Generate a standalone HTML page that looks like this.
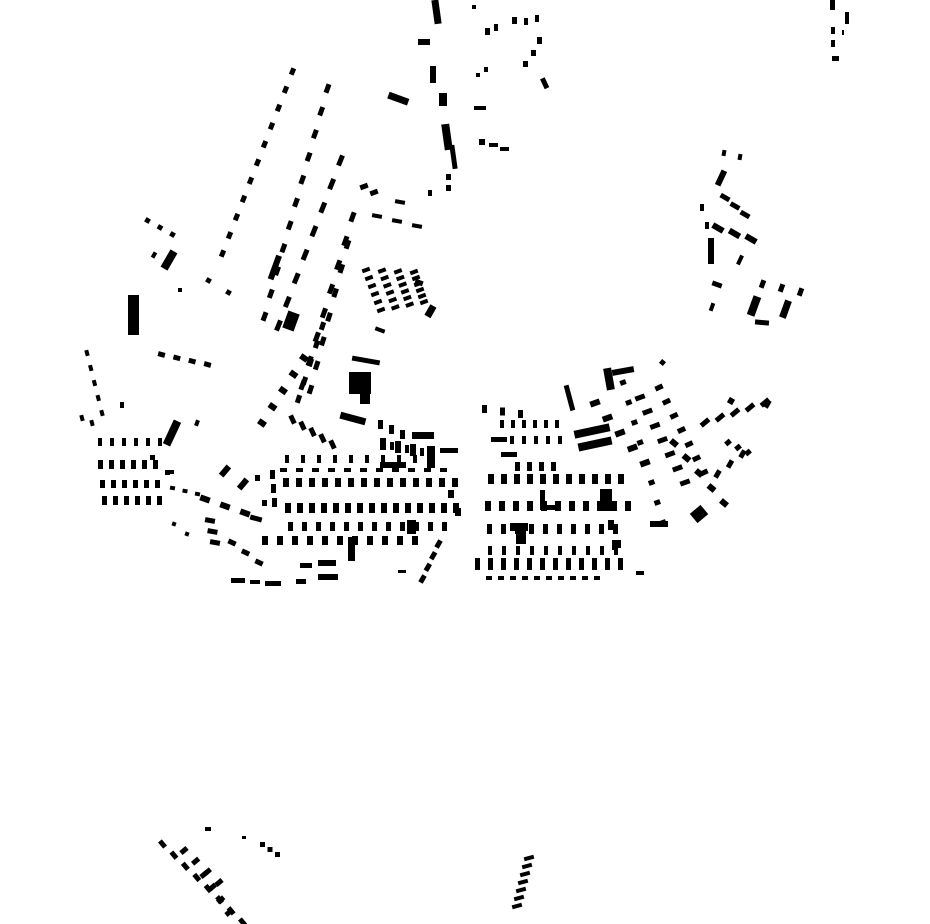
<!DOCTYPE html>
<html><head><meta charset="utf-8"><style>
html,body{margin:0;padding:0;background:#fff;width:930px;height:924px;overflow:hidden}
svg{display:block}
</style></head><body>
<svg id="s" width="930" height="924" viewBox="0 0 930 924" xmlns="http://www.w3.org/2000/svg">
<g fill="#000">
<rect x="433" y="0" width="7" height="24" transform="rotate(-8 436 12)"/>
<rect x="418" y="39" width="12" height="6"/>
<rect x="430" y="66" width="6" height="17"/>
<rect x="388" y="95" width="21" height="7" transform="rotate(20 398 98)"/>
<rect x="439" y="93" width="8" height="13"/>
<rect x="443" y="124" width="8" height="26" transform="rotate(-8 447 137)"/>
<rect x="451" y="145" width="5" height="24" transform="rotate(-8 453 157)"/>
<rect x="446" y="174" width="5" height="6"/><rect x="446" y="185" width="5" height="6"/>
<rect x="472" y="5" width="4" height="4"/><rect x="485" y="28" width="5" height="7"/><rect x="494" y="24" width="4" height="7"/>
<rect x="512" y="17" width="5" height="7"/><rect x="524" y="18" width="4" height="7"/><rect x="535" y="15" width="4" height="7"/>
<rect x="537" y="37" width="5" height="7"/><rect x="531" y="50" width="5" height="6"/><rect x="523" y="61" width="5" height="6"/>
<rect x="542" y="78" width="5" height="11" transform="rotate(-25 544 83)"/><rect x="484" y="67" width="4" height="5"/><rect x="476" y="73" width="4" height="4"/>
<rect x="474" y="106" width="12" height="4"/><rect x="479" y="139" width="6" height="6"/><rect x="489" y="143" width="9" height="4"/><rect x="500" y="147" width="9" height="4"/>
<rect x="830" y="0" width="5" height="10"/><rect x="845" y="12" width="4" height="12"/><rect x="831" y="27" width="4" height="7"/><rect x="831" y="40" width="4" height="7"/><rect x="832" y="56" width="7" height="5"/><rect x="842" y="30" width="2" height="5"/>
<rect x="349" y="372" width="22" height="22"/><rect x="352" y="358" width="28" height="5" transform="rotate(10 366 360)"/><rect x="360" y="390" width="10" height="14"/>
<rect x="340" y="415" width="26" height="7" transform="rotate(15 353 418)"/>
<rect x="128" y="295" width="11" height="40"/>
<rect x="168" y="420" width="8" height="26" transform="rotate(25 172 433)"/>
<rect x="165" y="250" width="8" height="20" transform="rotate(30 169 260)"/>
<rect x="272" y="255" width="6" height="25" transform="rotate(20 275 267)"/>
<rect x="285" y="312" width="12" height="18" transform="rotate(20 291 321)"/>
<rect x="574" y="427" width="36" height="8" transform="rotate(-12 592 431)"/>
<rect x="578" y="440" width="34" height="8" transform="rotate(-12 595 444)"/>
<rect x="605" y="368" width="8" height="22" transform="rotate(-10 609 379)"/>
<rect x="612" y="368" width="22" height="6" transform="rotate(-10 623 371)"/>
<rect x="567" y="385" width="5" height="26" transform="rotate(-15 569 398)"/>
<rect x="600" y="489" width="12" height="22"/>
<rect x="510" y="523" width="18" height="8"/><rect x="516" y="530" width="10" height="14"/>
<rect x="540" y="490" width="5" height="20"/><rect x="540" y="505" width="18" height="5"/>
<rect x="407" y="520" width="9" height="14"/><rect x="348" y="537" width="7" height="24"/>
<rect x="231" y="578" width="14" height="5"/><rect x="250" y="580" width="10" height="4"/><rect x="265" y="581" width="16" height="5"/><rect x="296" y="579" width="10" height="5"/><rect x="318" y="574" width="20" height="6"/><rect x="318" y="560" width="18" height="6"/><rect x="300" y="563" width="12" height="5"/>
<rect x="692" y="508" width="14" height="12" transform="rotate(-40 699 514)"/>
<rect x="750" y="296" width="8" height="20" transform="rotate(20 754 306)"/><rect x="782" y="300" width="7" height="18" transform="rotate(20 785 309)"/>
<rect x="708" y="238" width="6" height="26"/><rect x="718" y="170" width="6" height="16" transform="rotate(25 721 178)"/>
<rect x="650" y="521" width="18" height="6"/>
<rect x="427" y="305" width="7" height="12" transform="rotate(30 430 311)"/>
<rect x="412" y="432" width="22" height="7"/><rect x="380" y="462" width="26" height="6"/>
<rect x="427" y="446" width="8" height="22"/><rect x="440" y="448" width="18" height="5"/>
<rect x="501" y="452" width="16" height="5"/><rect x="491" y="437" width="16" height="5"/>
</g>
<g id="gen" fill="#000"></g>
</svg>
<script>
var g=document.getElementById('gen'),ns='http://www.w3.org/2000/svg';
function r(x,y,w,h,a){var e=document.createElementNS(ns,'rect');e.setAttribute('x',x);e.setAttribute('y',y);e.setAttribute('width',w);e.setAttribute('height',h);if(a)e.setAttribute('transform','rotate('+a+' '+(x+w/2)+' '+(y+h/2)+')');g.appendChild(e);}
function line(x1,y1,x2,y2,n,w,h,a){for(var i=0;i<n;i++){var t=n>1?i/(n-1):0;r(x1+(x2-x1)*t,y1+(y2-y1)*t,w,h,a);}}
function row(x1,x2,y,step,w,h){for(var x=x1;x<=x2;x+=step)r(x,y,w,h);}
line(290,68,220,250,11,5,7,22);
line(325,84,262,312,11,5,9,20);
line(338,155,276,320,8,5,11,22);
line(350,212,300,380,8,5,10,20);
line(345,240,308,385,7,5,9,18);
line(320,322,296,395,5,5,8,18);
line(300,355,258,420,5,8,6,35);
line(145,218,170,232,3,5,5,30);
line(152,252,165,262,2,4,6,30);
line(178,288,178,288,1,4,4,0);
line(206,278,226,290,2,5,5,30);
line(158,352,204,362,4,7,5,15);
line(85,350,100,410,5,4,6,-15);
line(80,415,90,420,2,4,6,-15);
line(120,402,120,402,1,4,6,0);
line(195,420,198,424,1,4,6,20);
for(var i=0;i<6;i++)line(362+i*3,268+i*8,410+i*2,270+i*6,4,8,4,-20);
line(360,184,370,190,2,8,5,-20);
line(372,214,412,224,3,10,4,10);
line(395,200,405,202,1,10,4,10);
line(415,280,425,285,1,8,5,20);
line(375,328,385,332,1,10,4,20);
line(428,190,428,190,1,4,6,0);
row(98,165,438,12,4,8);row(98,160,460,11,5,9);row(100,160,480,11,5,8);row(102,160,496,11,5,9);
line(150,455,165,470,2,5,5,0);
line(170,470,175,470,1,4,4,0);line(170,486,195,492,3,5,4,10);
line(200,496,240,510,3,10,6,20);line(222,465,240,478,2,6,12,40);
line(205,518,210,540,3,10,5,10);line(172,522,185,532,2,4,4,20);
line(228,540,255,560,3,8,5,25);
line(250,516,262,520,1,12,5,15);
row(283,456,478,13,6,9);row(285,456,503,12,6,10);row(288,452,522,14,5,9);row(262,420,536,15,6,9);
row(280,450,468,16,7,4);row(285,430,455,16,4,8);
line(290,415,330,440,5,5,9,-25);line(378,420,400,430,3,5,9,0);
line(380,438,410,444,3,6,12,0);line(390,442,420,448,3,4,8,0);
line(436,540,420,575,4,5,8,30);line(398,570,406,572,1,8,3,0);
line(448,490,455,508,2,6,8,0);line(270,470,272,498,3,5,9,0);
line(255,475,262,500,2,5,6,0);
row(488,625,474,13,6,10);row(485,628,501,14,6,10);row(487,620,524,14,5,10);row(488,618,546,14,4,9);row(475,620,558,13,5,12);row(486,600,576,12,6,4);
row(500,560,420,11,4,8);row(510,560,436,12,4,8);row(515,555,462,12,5,9);
line(482,405,518,410,3,5,8,0);line(636,571,640,571,1,8,4,0);
line(616,540,622,546,1,5,8,0);line(608,520,612,540,2,6,10,0);
line(620,380,660,520,8,6,5,-20);
line(635,395,680,480,7,10,5,-20);
line(655,385,700,470,7,8,5,-25);
line(660,360,668,362,1,5,5,40);
line(590,400,640,460,5,10,6,-20);
line(670,440,720,500,5,8,6,40);
line(700,420,760,400,5,10,5,-40);
line(725,440,745,450,3,6,5,-40);
line(715,470,740,450,3,5,8,30);
line(765,400,770,406,1,5,8,30);
line(728,398,732,400,1,6,6,30);
line(722,150,738,154,2,4,6,10);line(720,195,740,212,3,10,5,30);line(700,204,705,222,2,4,7,0);
line(712,225,745,236,3,12,6,30);line(738,255,742,262,1,4,10,25);line(712,282,720,290,1,10,5,20);
line(710,303,713,308,1,4,8,20);line(755,320,760,322,1,14,5,5);line(760,280,798,288,3,5,8,20);
line(160,840,240,918,8,5,8,-40);line(180,848,215,880,4,8,5,-40);line(200,872,225,910,4,8,5,-40);
line(205,827,205,827,1,6,4,0);line(242,836,242,836,1,4,3,0);line(260,842,275,852,3,5,5,0);
line(524,856,512,904,7,10,4,-15);
</script>
</body></html>
